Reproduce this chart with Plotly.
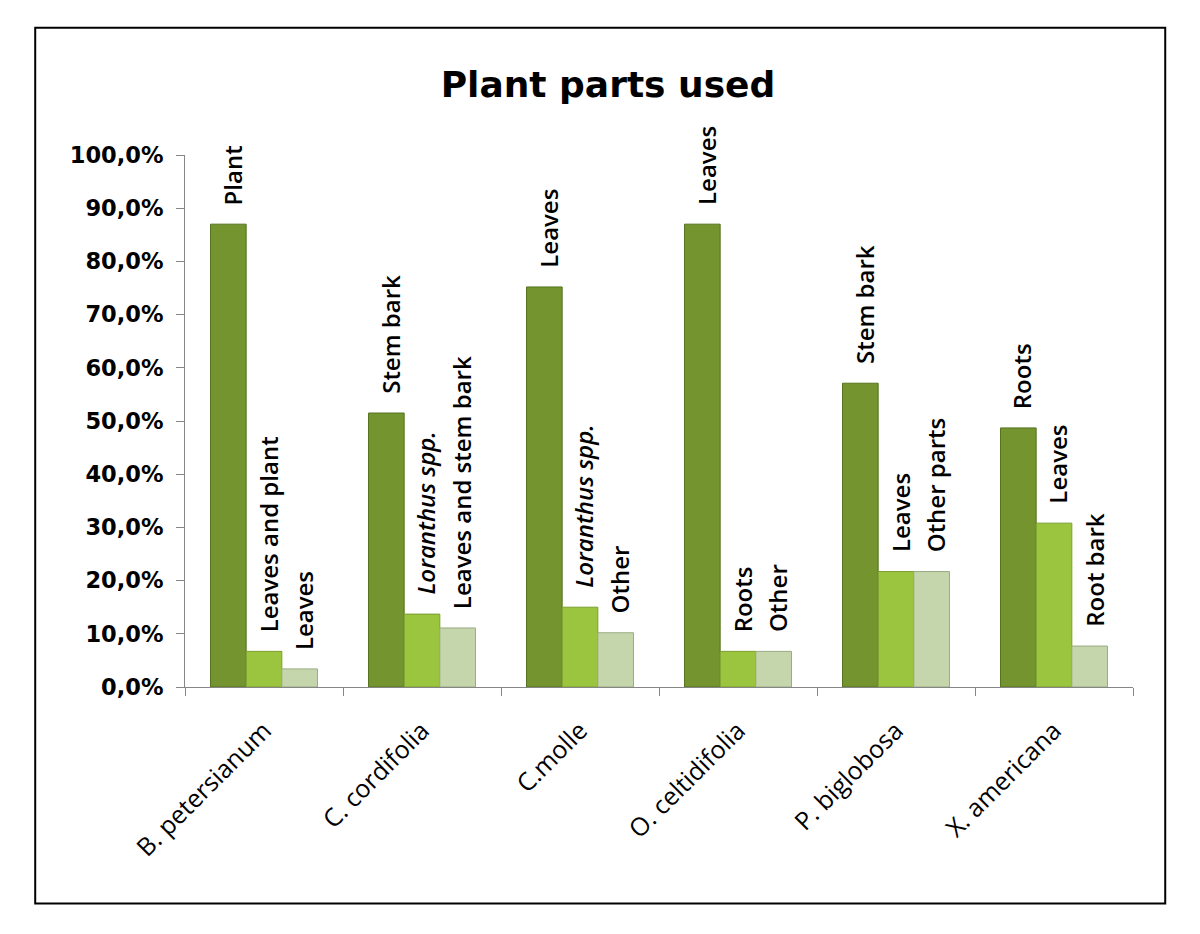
import plotly.graph_objects as go

species = ["B. petersianum", "C. cordifolia", "C.molle", "O. celtidifolia", "P. biglobosa", "X. americana"]

# three bars per species (first, second, third most cited part)
first_vals = [87.0, 51.5, 75.2, 87.0, 57.1, 48.7]
second_vals = [6.7, 13.7, 15.0, 6.7, 21.7, 30.8]
third_vals = [3.4, 11.1, 10.2, 6.7, 21.7, 7.7]

first_labels = ["Plant", "Stem bark", "Leaves", "Leaves", "Stem bark", "Roots"]
second_labels = ["Leaves and plant", "<i>Loranthus spp.</i>", "<i>Loranthus spp.</i>", "Roots", "Leaves", "Leaves"]
third_labels = ["Leaves", "Leaves and stem bark", "Other", "Other", "Other parts", "Root bark"]

y_ticks = [0, 10, 20, 30, 40, 50, 60, 70, 80, 90, 100]
y_ticktext = ["0,0%", "10,0%", "20,0%", "30,0%", "40,0%", "50,0%", "60,0%", "70,0%", "80,0%", "90,0%", "100,0%"]

colors = ["#73942e", "#9cc53f", "#c6d6ac"]
edges = ["#56731f", "#7a9e2e", "#9aab84"]

LABEL_FONT = dict(family="Open Sans, Lato, sans-serif", size=24, color="#000000", weight=600)

fig = go.Figure()
series = [(first_vals, first_labels), (second_vals, second_labels), (third_vals, third_labels)]
for i, (vals, labs) in enumerate(series):
    fig.add_trace(go.Bar(
        x=species, y=vals, name=f"s{i}",
        marker=dict(color=colors[i], line=dict(color=edges[i], width=1)),
        showlegend=False, hoverinfo="x+y",
    ))

# labels above bars
bar_px = 35.7
for i, (vals, labs) in enumerate(series):
    off = (i - 1) * bar_px + 4
    for sp, v, lab in zip(species, vals, labs):
        fig.add_annotation(
            x=sp, y=v, xref="x", yref="y", text=lab, showarrow=False,
            textangle=-90, xanchor="center", yanchor="bottom",
            xshift=off, yshift=17, font=LABEL_FONT,
        )

# outer chart border (paper coords)
fig.add_shape(type="rect", xref="paper", yref="paper",
              x0=-0.158, x1=1.034, y0=-0.407, y1=1.239,
              line=dict(color="#000000", width=2), fillcolor="rgba(0,0,0,0)")

fig.update_layout(
    width=1200, height=934,
    margin=dict(l=177, r=75, t=147, b=255),
    paper_bgcolor="white", plot_bgcolor="white",
    barmode="group", bargap=0.323, bargroupgap=0,
    title=dict(text="<b>Plant parts used</b>", x=0.5, xanchor="center",
               y=0.918, yanchor="middle",
               font=dict(family="DejaVu Sans", size=36, color="#000000")),
    xaxis=dict(
        showline=True, linecolor="#868686", linewidth=1,
        ticks="outside", tickson="boundaries", ticklen=8, tickcolor="#868686",
        tickangle=-45, showgrid=False, ticklabelstandoff=18,
        tickfont=dict(family="Open Sans, Lato, sans-serif", size=25, color="#000000"),
    ),
    yaxis=dict(
        range=[0, 100], tickvals=y_ticks, ticktext=y_ticktext,
        showline=True, linecolor="#868686", linewidth=1,
        ticks="outside", ticklen=8, tickcolor="#868686", showgrid=False,
        zeroline=False, ticklabelstandoff=8,
        tickfont=dict(family="DejaVu Sans", size=22.5, color="#000000", weight="bold"),
    ),
)

fig.write_html("out.html")
